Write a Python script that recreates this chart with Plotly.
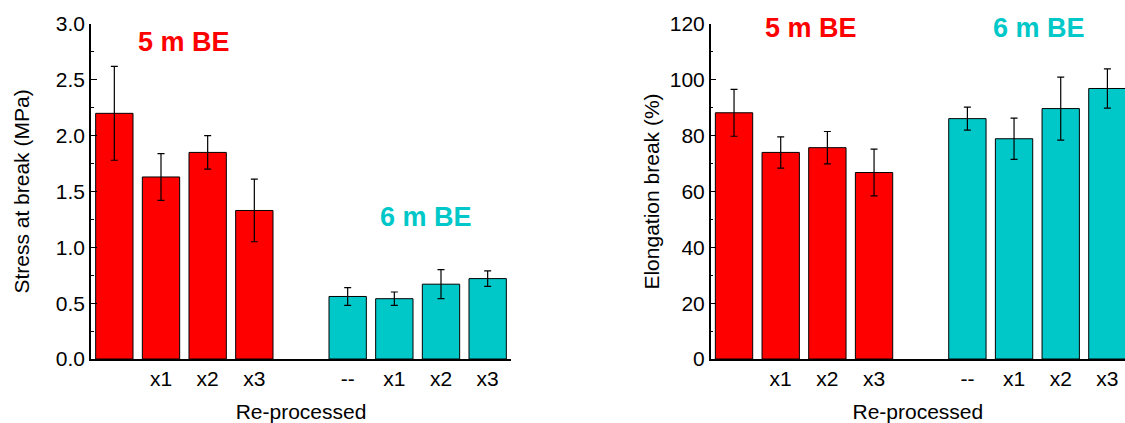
import plotly.graph_objects as go

# ---- data ----
labels_5m = ["", "x1", "x2", "x3"]
labels_6m = ["--", "x1", "x2", "x3"]

stress_5m = [2.20, 1.63, 1.85, 1.33]
stress_5m_err = [0.42, 0.21, 0.15, 0.28]
stress_6m = [0.56, 0.54, 0.67, 0.72]
stress_6m_err = [0.08, 0.06, 0.13, 0.07]

elong_5m = [88.2, 74.0, 75.7, 66.8]
elong_5m_err = [8.4, 5.6, 5.8, 8.4]
elong_6m = [86.1, 78.9, 89.7, 96.9]
elong_6m_err = [4.1, 7.4, 11.3, 7.0]

RED = "#FF0000"
TEAL = "#00C8C8"
FONT = "Liberation Sans, Arial, Helvetica, sans-serif"
FS = 21

n5 = len(labels_5m)
pos_5m = list(range(n5))
pos_6m = [n5 + 1 + i for i in range(len(labels_6m))]
tick_pos = pos_5m + pos_6m
tick_text = labels_5m + labels_6m

W, H = 1125, 423
fig = go.Figure()


def add_bars(x, y, err, color, xa, ya):
    fig.add_trace(go.Bar(
        x=x, y=y, width=0.8,
        marker=dict(color=color, line=dict(color="black", width=1)),
        error_y=dict(type="data", array=err, visible=True, color="black",
                     thickness=1.2, width=3.5),
        xaxis=xa, yaxis=ya, showlegend=False,
    ))


add_bars(pos_5m, stress_5m, stress_5m_err, RED, "x", "y")
add_bars(pos_6m, stress_6m, stress_6m_err, TEAL, "x", "y")
add_bars(pos_5m, elong_5m, elong_5m_err, RED, "x2", "y2")
add_bars(pos_6m, elong_6m, elong_6m_err, TEAL, "x2", "y2")

ydom = [(H - 359) / H, (H - 24) / H]
xdom1 = [91 / W, 511 / W]
xdom2 = [710.7 / W, 1.0]
slot_px = 46.67
xr2_end = -0.5 + (W - 710.7) / slot_px

tfont = dict(family=FONT, size=FS, color="black")
xcommon = dict(tickmode="array", tickvals=tick_pos, ticktext=tick_text,
               ticks="", showline=True, linecolor="black", linewidth=1.5,
               showgrid=False, zeroline=False, automargin=False,
               tickfont=tfont,
               title=dict(text="Re-processed", font=tfont, standoff=15))
ycommon = dict(ticks="inside", ticklen=6, tickwidth=1, tickcolor="black",
               showline=True, linecolor="black", linewidth=1.5,
               showgrid=False, zeroline=False, automargin=False,
               tickfont=tfont)

fig.update_layout(
    width=W, height=H,
    margin=dict(l=0, r=0, t=0, b=0, autoexpand=False),
    paper_bgcolor="white", plot_bgcolor="white",
    bargap=0.2,
    xaxis=dict(domain=xdom1, range=[-0.5, 8.5], anchor="y", **xcommon),
    xaxis2=dict(domain=xdom2, range=[-0.5, xr2_end], anchor="y2", **xcommon),
    yaxis=dict(domain=ydom, range=[0, 3.0], dtick=0.5, tickformat=".1f",
               minor=dict(dtick=0.25, ticks="inside", ticklen=3, tickcolor="black"),
               title=dict(text="Stress at break (MPa)", font=tfont, standoff=20),
               anchor="x", **ycommon),
    yaxis2=dict(domain=ydom, range=[0, 120], dtick=20,
                minor=dict(dtick=10, ticks="inside", ticklen=3, tickcolor="black"),
                title=dict(text="Elongation break (%)", font=tfont, standoff=4),
                anchor="x2", **ycommon),
)

ann_font = lambda c: dict(family=FONT, size=27, color=c)
annotations = [
    dict(text="<b>5 m BE</b>", x=1.49, y=2.84, xref="x", yref="y", font=ann_font(RED)),
    dict(text="<b>6 m BE</b>", x=6.67, y=1.27, xref="x", yref="y", font=ann_font(TEAL)),
    dict(text="<b>5 m BE</b>", x=1.65, y=118.4, xref="x2", yref="y2", font=ann_font(RED)),
    dict(text="<b>6 m BE</b>", x=6.53, y=118.4, xref="x2", yref="y2", font=ann_font(TEAL)),
]
for a in annotations:
    fig.add_annotation(showarrow=False, xanchor="center", yanchor="middle", **a)

fig.write_html(
    "out.html",
    config={"displayModeBar": False},
    post_script="document.body.style.margin='0';document.body.style.overflow='hidden';",
)
